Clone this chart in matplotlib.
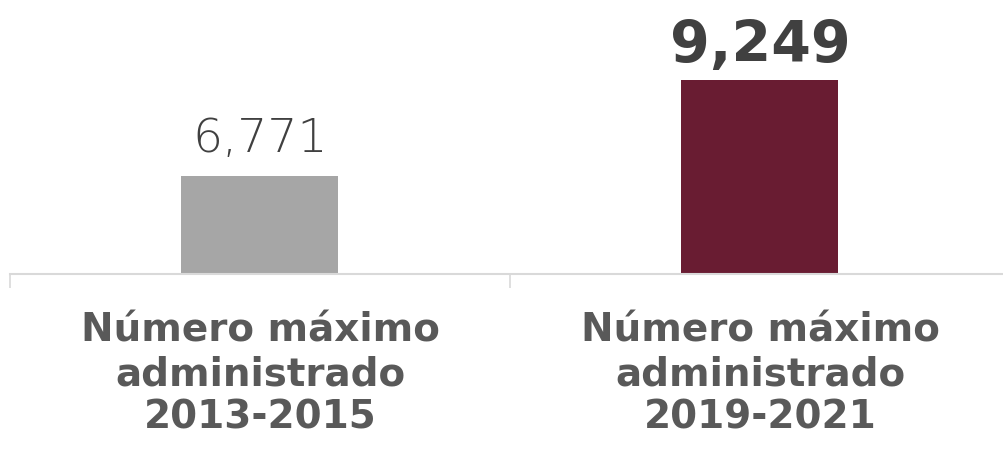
import numpy as np
import matplotlib
matplotlib.use("Agg")
import matplotlib.pyplot as plt

# datos
categorias = ["Número máximo\nadministrado\n2013-2015", "Número máximo\nadministrado\n2019-2021"]
valores = [6771, 9249]
etiquetas_valor = ["6,771", "9,249"]
colores = ["#a6a6a6", "#691c32"]

fig = plt.figure(figsize=(10.04, 4.5), dpi=100)
ax = fig.add_axes([10 / 1004, 1 - 274 / 450, 1000 / 1004, 274 / 450])
ax.patch.set_alpha(0)

x = np.arange(len(valores))
barras = ax.bar(x, valores, width=0.314, color=colores, zorder=2)

ax.set_xlim(-0.5, 1.5)
ax.set_ylim(4241, 11314)

for sp in ["top", "right", "left"]:
    ax.spines[sp].set_visible(False)
ax.spines["bottom"].set_color("#d9d9d9")
ax.spines["bottom"].set_linewidth(1.5)
ax.set_yticks([])

ax.set_xticks(x)
ax.set_xticklabels(categorias, fontsize=28, fontweight="bold", color="#595959",
                   linespacing=1.19, family="DejaVu Sans")
ax.tick_params(axis="x", which="major", length=0, pad=27)
ax.set_xticks([-0.5, 0.5, 1.5], minor=True)
ax.tick_params(axis="x", which="minor", length=10, width=1.2, color="#d9d9d9")

# etiquetas de valor
ax.annotate(etiquetas_valor[0], (x[0], valores[0]), xytext=(0, 17), textcoords="offset points",
            ha="center", va="baseline", fontsize=34, fontweight="light", color="#404040")
ax.annotate(etiquetas_valor[1], (x[1], valores[1]), xytext=(0, 13), textcoords="offset points",
            ha="center", va="baseline", fontsize=41, fontweight="bold", color="#404040")

fig.savefig("out.png", dpi=100, facecolor="white")
